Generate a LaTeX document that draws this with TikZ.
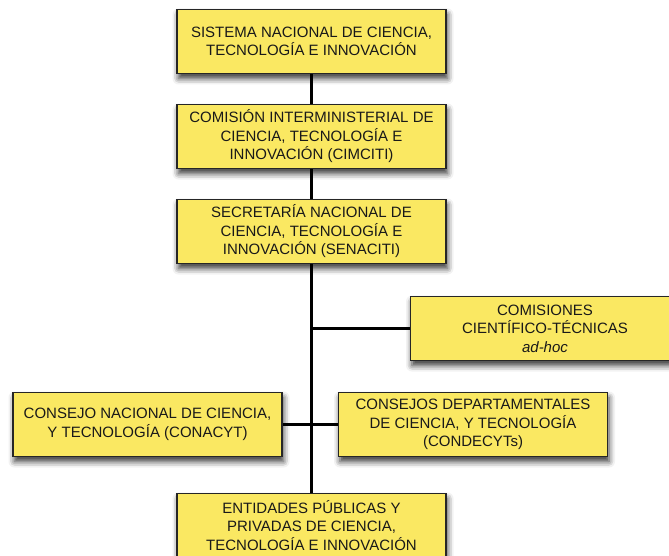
\documentclass[tikz,border=0pt]{standalone}
\usepackage{fontspec}
\setmainfont{Liberation Sans}
\usetikzlibrary{shadows.blur,backgrounds}
\definecolor{amarillo}{RGB}{250,232,98}
\tikzset{
  ente/.style={draw=black!85, line width=1.3pt, fill=amarillo,
    minimum width=269pt, minimum height=64pt, align=center,
    text=black!90, font=\fontsize{15}{18.5}\selectfont, inner sep=0pt,
    blur shadow={shadow xshift=1.5pt, shadow yshift=-5pt,
      shadow blur radius=6pt, shadow opacity=80}},
  linea/.style={line width=2.4pt, black}
}
\begin{document}
\begin{tikzpicture}[x=1pt, y=-1pt]
    \useasboundingbox (0,0) rectangle (669,556);
    \clip (0,0) rectangle (669,556);
    \node [ente] (sistema) at (311.5,41.5)
      {SISTEMA NACIONAL DE CIENCIA,\\TECNOLOGÍA E INNOVACIÓN};
    \node [ente] (cimciti) at (311.5,136.5)
      {COMISIÓN INTERMINISTERIAL DE\\CIENCIA, TECNOLOGÍA E\\INNOVACIÓN (CIMCITI)};
    \node [ente] (senaciti) at (311.5,231.5)
      {SECRETARÍA NACIONAL DE\\CIENCIA, TECNOLOGÍA E\\INNOVACIÓN (SENACITI)};
    \node [ente] (comisiones) at (545,328.5)
      {COMISIONES\\CIENTÍFICO-TÉCNICAS\\\textit{ad-hoc}};
    \node [ente] (conacyt) at (147.5,424.5)
      {CONSEJO NACIONAL DE CIENCIA,\\Y TECNOLOGÍA (CONACYT)};
    \node [ente] (condecyt) at (473,424.5)
      {CONSEJOS DEPARTAMENTALES\\DE CIENCIA, Y TECNOLOGÍA\\(CONDECYTs)};
    \node [ente] (entidades) at (311.5,525.5)
      {ENTIDADES PÚBLICAS Y\\PRIVADAS DE CIENCIA,\\TECNOLOGÍA E INNOVACIÓN};
    \coordinate (rama) at (sistema.south |- comisiones.west);
    \begin{scope}[on background layer]
      \draw [linea] (sistema.south) -- (entidades.north);
      \draw [linea] (rama) -- (comisiones.west);
      \draw [linea] (conacyt.east) -- (condecyt.west);
    \end{scope}
  \end{tikzpicture}
\end{document}
